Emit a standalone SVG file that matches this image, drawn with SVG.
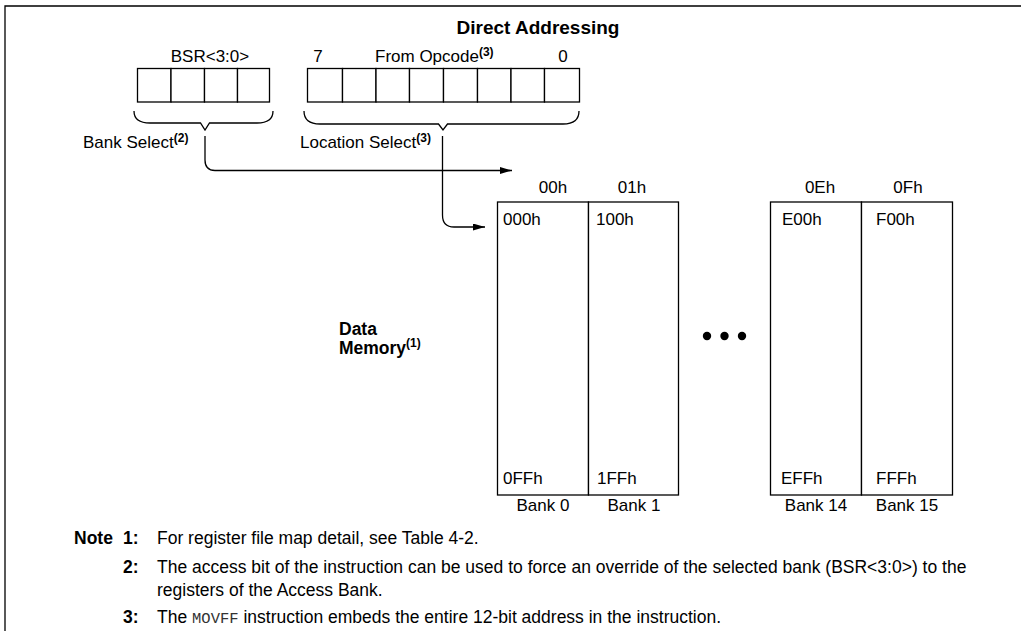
<svg xmlns="http://www.w3.org/2000/svg" width="1021" height="631" viewBox="0 0 1021 631">
<style>
text{font-family:"Liberation Sans",Arial,sans-serif;font-size:17px;fill:#000}
.b{font-weight:bold}
.sup{font-size:12px;font-weight:bold}
.title{font-size:19px;font-weight:bold}
.note{font-size:17.5px}
.mono{font-family:"Liberation Mono","Courier New",monospace;font-size:15.5px;fill:#333}
.ln{fill:none;stroke:#000;stroke-width:1.3}
.cell{fill:#fff;stroke:#000;stroke-width:1.3}
</style>
<defs>
<marker id="arr" markerUnits="userSpaceOnUse" markerWidth="13" markerHeight="8" refX="12" refY="3.5" orient="auto">
<path d="M0,0 L12,3.5 L0,7 Z" fill="#000"/>
</marker>
</defs>
<rect width="1021" height="631" fill="#fff"/>
<path class="ln" d="M5,631 L5,6 L1021,6"/>
<text class="title" x="538" y="34" text-anchor="middle">Direct Addressing</text>

<g id="bsr">
<text x="210" y="62" text-anchor="middle">BSR&lt;3:0&gt;</text>
<rect class="cell" x="137.5" y="68.5" width="33.5" height="33.5"/>
<rect class="cell" x="171" y="68.5" width="33.5" height="33.5"/>
<rect class="cell" x="204.5" y="68.5" width="33" height="33.5"/>
<rect class="cell" x="237.5" y="68.5" width="32" height="33.5"/>
<path class="ln" d="M134,111 C134,119 139,123 150,123 L200.5,123 L205,130 L209.5,123 L257,123 C268,123 273,119 273,111"/>
<text x="83" y="148">Bank Select<tspan class="sup" dy="-6">(2)</tspan></text>
</g>

<g id="opcode">
<text x="318" y="62" text-anchor="middle">7</text>
<text x="375" y="62">From Opcode<tspan class="sup" dy="-6">(3)</tspan></text>
<text x="563" y="62" text-anchor="middle">0</text>
<rect class="cell" x="307.5" y="68.5" width="35" height="33.5"/>
<rect class="cell" x="342.5" y="68.5" width="33.5" height="33.5"/>
<rect class="cell" x="376" y="68.5" width="33.5" height="33.5"/>
<rect class="cell" x="409.5" y="68.5" width="34" height="33.5"/>
<rect class="cell" x="443.5" y="68.5" width="34" height="33.5"/>
<rect class="cell" x="477.5" y="68.5" width="33.5" height="33.5"/>
<rect class="cell" x="511" y="68.5" width="33.5" height="33.5"/>
<rect class="cell" x="544.5" y="68.5" width="35" height="33.5"/>
<path class="ln" d="M304,111 C304,119 309,124 320,124 L438.5,124 L443,130 L447.5,124 L563,124 C574,124 579,119 579,111"/>
<text x="300" y="148">Location Select<tspan class="sup" dy="-6">(3)</tspan></text>
</g>

<g id="connectors">
<path class="ln" d="M205,136 L205,160 Q205,170.5 215,170.5 L512,170.5" marker-end="url(#arr)"/>
<path class="ln" d="M442.5,136 L442.5,215 Q442.5,227 454,227 L485,227" marker-end="url(#arr)"/>
</g>

<g id="bank0">
<text x="553" y="193" text-anchor="middle">00h</text>
<rect class="cell" x="497.5" y="202" width="91" height="293"/>
<text x="503" y="225">000h</text>
<text x="503" y="484">0FFh</text>
<text x="543" y="511" text-anchor="middle">Bank 0</text>
</g>
<g id="bank1">
<text x="632" y="193" text-anchor="middle">01h</text>
<rect class="cell" x="588.5" y="202" width="90" height="293"/>
<text x="596" y="225">100h</text>
<text x="597" y="484">1FFh</text>
<text x="634" y="511" text-anchor="middle">Bank 1</text>
</g>
<g id="dots">
<circle cx="707" cy="336" r="4.2"/>
<circle cx="724.5" cy="336" r="4.2"/>
<circle cx="742" cy="336" r="4.2"/>
</g>
<g id="bank14">
<text x="820" y="193" text-anchor="middle">0Eh</text>
<rect class="cell" x="770.5" y="202" width="91" height="293"/>
<text x="782" y="225">E00h</text>
<text x="781" y="484">EFFh</text>
<text x="816" y="511" text-anchor="middle">Bank 14</text>
</g>
<g id="bank15">
<text x="908" y="193" text-anchor="middle">0Fh</text>
<rect class="cell" x="861.5" y="202" width="91" height="293"/>
<text x="876" y="225">F00h</text>
<text x="876" y="484">FFFh</text>
<text x="907" y="511" text-anchor="middle">Bank 15</text>
</g>

<g id="datamem">
<text class="b" x="339" y="335" style="font-size:17.5px">Data</text>
<text class="b" x="339" y="354" style="font-size:17.5px">Memory<tspan class="sup" dy="-7">(1)</tspan></text>
</g>

<g id="notes">
<text class="b note" x="74" y="544">Note</text>
<text class="b note" x="123" y="544">1:</text>
<text class="note" x="157" y="544">For register file map detail, see Table 4-2.</text>
<text class="b note" x="123" y="573">2:</text>
<text class="note" x="157" y="573">The access bit of the instruction can be used to force an override of the selected bank (BSR&lt;3:0&gt;) to the</text>
<text class="note" x="157" y="596">registers of the Access Bank.</text>
<text class="b note" x="123" y="623">3:</text>
<text class="note" x="157" y="623">The <tspan class="mono">MOVFF</tspan> instruction embeds the entire 12-bit address in the instruction.</text>
</g>
</svg>
